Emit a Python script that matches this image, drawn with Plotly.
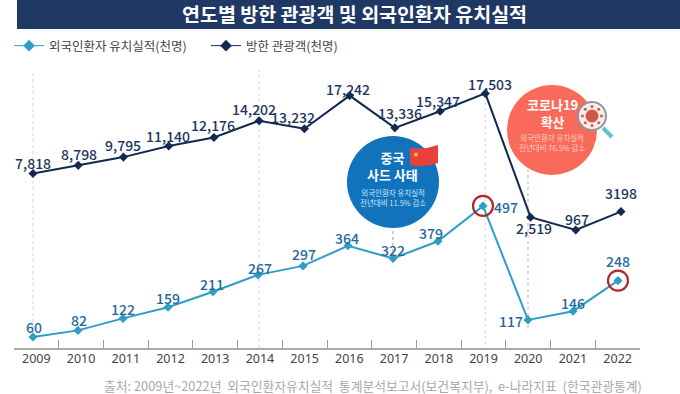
import math
import plotly.graph_objects as go

W, H = 680, 394
YEARS = ["2009","2010","2011","2012","2013","2014","2015","2016","2017","2018","2019","2020","2021","2022"]
YEAR_NUM = [int(y) for y in YEARS]
VISITORS = [7818, 8798, 9795, 11140, 12176, 14202, 13232, 17242, 13336, 15347, 17503, 2519, 967, 3198]
PATIENTS = [60, 82, 122, 159, 211, 267, 297, 364, 322, 379, 497, 117, 146, 248]
VISITOR_LABELS = ["7,818","8,798","9,795","11,140","12,176","14,202","13,232","17,242","13,336","15,347","17,503","2,519","967","3198"]
PATIENT_LABELS = [str(v) for v in PATIENTS]
RING_YEARS = [2019, 2022]
RING_VALUES = [497, 248]
NAME_PATIENTS = "외국인환자 유치실적(천명)"
NAME_VISITORS = "방한 관광객(천명)"
TITLE = "연도별 방한 관광객 및 외국인환자 유치실적"
SOURCE = "출처: 2009년~2022년  외국인환자유치실적  통계분석보고서(보건복지부),  e-나라지표  (한국관광통계)"

# label offsets in pixels (dx, dy down-positive)
V_OFF = [(0,-10),(1,-11),(0,-12),(-1,-10),(-1,-12),(-5,-12),(-11,-12),(-2,-7),(5,-15),(-2,-10),(5,-9),(3,11),(1,-11),(0,-19)]
P_OFF = [(1,-10),(1,-10),(0,-9),(0,-9),(-1,-8),(2,-7),(1,-12),(-1,-8),(0,-8),(-7,-8),(23,1),(-17,1),(0,-8),(0,-20)]

DARK = "#14294f"; BLUE = "#2f9ec6"; LBL_D = "#1c3560"; LBL_B = "#24689c"
CJK = "Noto Sans CJK KR"

def px(x): return x / W
def py(y): return 1 - y / H

fig = go.Figure()
fig.add_trace(go.Scatter(x=YEARS, y=VISITORS, mode="none", xaxis="x", yaxis="y", showlegend=False, hoverinfo="skip"))
fig.add_trace(go.Scatter(x=YEAR_NUM, y=PATIENTS, mode="lines+markers", xaxis="x3", yaxis="y2", showlegend=False,
                         line=dict(color=BLUE, width=2), marker=dict(symbol="diamond", size=7, color=BLUE)))
fig.add_trace(go.Scatter(x=YEAR_NUM, y=VISITORS, mode="lines+markers", xaxis="x2", yaxis="y", showlegend=False,
                         line=dict(color=DARK, width=2), marker=dict(symbol="diamond", size=7, color=DARK)))
fig.add_trace(go.Scatter(x=RING_YEARS, y=RING_VALUES, mode="markers", xaxis="x3", yaxis="y2", showlegend=False, hoverinfo="skip",
                         marker=dict(symbol="circle-open", size=20, color="#b3262c", line=dict(width=2.2, color="#b3262c"))))
# thin-lined legend keys
fig.add_trace(go.Scatter(x=[None], y=[None], name=NAME_PATIENTS, mode="lines+markers", xaxis="x3", yaxis="y2",
                         line=dict(color=BLUE, width=1), marker=dict(symbol="diamond", size=9, color=BLUE)))
fig.add_trace(go.Scatter(x=[None], y=[None], name=NAME_VISITORS, mode="lines+markers", xaxis="x2", yaxis="y",
                         line=dict(color=DARK, width=1), marker=dict(symbol="diamond", size=9, color=DARK)))

ann = []
def text(x, y, t, size, color, weight=400, font=CJK):
    ann.append(dict(xref="paper", yref="paper", x=px(x), y=py(y), text=t, showarrow=False, xanchor="center", yanchor="middle",
                    font=dict(family=font, size=size, color=color, weight=weight)))

for yr, v, lab, (dx, dy) in zip(YEAR_NUM, VISITORS, VISITOR_LABELS, V_OFF):
    ann.append(dict(xref="x2", yref="y", x=yr, y=v, text=lab, showarrow=False, xshift=dx, yshift=-dy,
                    font=dict(family=CJK, size=14, color=LBL_D, weight=500)))
for yr, v, lab, (dx, dy) in zip(YEAR_NUM, PATIENTS, PATIENT_LABELS, P_OFF):
    ann.append(dict(xref="x3", yref="y2", x=yr, y=v, text=lab, showarrow=False, xshift=dx, yshift=-dy,
                    font=dict(family=CJK, size=14, color=LBL_B, weight=500)))

text(354, 13.5, TITLE, 19.5, "white", 700)
text(373, 385, SOURCE, 12.8, "#a8a8a8")
text(393, 166, "중국<br>사드 사태", 13, "white", 700)
text(393, 198, "외국인환자 유치실적<br>전년대비 11.5% 감소", 7.5, "#cfe6f7")
text(552, 112.5, "코로나19<br>확산", 13, "white", 700)
text(552, 142, "외국인환자 유치실적<br>전년대비 76.5% 감소", 7.5, "#fbd0c9")

shapes = []
def rect(x0, y0, x1, y1, color):
    shapes.append(dict(type="rect", xref="paper", yref="paper", x0=px(x0), x1=px(x1), y0=py(y1), y1=py(y0),
                       fillcolor=color, line=dict(width=0), layer="below"))
def circle(cx, cy, r, color, line=None, lw=0, layer="below"):
    shapes.append(dict(type="circle", xref="paper", yref="paper", x0=px(cx-r), x1=px(cx+r), y0=py(cy+r), y1=py(cy-r),
                       fillcolor=color, line=dict(width=lw, color=line or color), layer=layer))
def guide(xref, yr, y0, y1, color):
    shapes.append(dict(type="line", xref=xref, yref="paper", x0=yr, x1=yr, y0=py(y1), y1=py(y0),
                       line=dict(color=color, width=1, dash="dot"), layer="below"))

rect(17, 0, 680, 29, "#1f3864")
guide("x2", 2009, 70, 340, "#d4d4d4")
guide("x2", 2014, 70, 348, "#d4d4d4")
guide("x3", 2017, 225, 252, "#999999")
guide("x2", 2019, 93, 345, "#d4d4d4")
guide("x3", 2020, 165, 328, "#d9a8a0")
circle(393, 182, 46, "#1273bd", layer="below")
circle(552, 130, 45, "#fa6a5a", layer="below")
# flag
shapes.append(dict(type="path", xref="paper", yref="paper",
    path=f"M {px(410)} {py(148)} Q {px(424)} {py(150)} {px(438)} {py(145)} L {px(438)} {py(163)} Q {px(424)} {py(168)} {px(410)} {py(165)} Z",
    fillcolor="#e8403a", line=dict(width=0)))
text(416, 153, "★", 6, "#f7d24a")
# magnifier with virus
shapes.append(dict(type="line", xref="paper", yref="paper", x0=px(603), y0=py(128), x1=px(612), y1=py(137),
                   line=dict(color="#5cc4cf", width=4)))
circle(592, 116, 14, "#fbeee9", line="#8f95a3", lw=2, layer="above")
circle(592, 116, 6.5, "#cf5a4c", layer="above")
for k in range(8):
    a = k * math.pi / 4
    circle(592 + 9.5 * math.cos(a), 116 + 9.5 * math.sin(a), 1.5, "#cf5a4c", layer="above")

axis_common = dict(showgrid=False, zeroline=False)
fig.update_layout(
    width=W, height=H, margin=dict(l=0, r=0, t=0, b=0), autosize=False,
    paper_bgcolor="white", plot_bgcolor="rgba(0,0,0,0)",
    font=dict(family=CJK),
    xaxis=dict(type="category", categoryorder="array", categoryarray=YEARS, range=[-0.5, 13.5],
               domain=[px(14), px(640)], anchor="y", tickson="boundaries", ticks="inside", ticklen=8,
               tickcolor="#9a9a9a", showline=True, linecolor="#aaaaaa", linewidth=1.5, ticklabelstandoff=-2,
               tickfont=dict(family="Noto Sans", size=12.5, color="#444444"), **axis_common),
    xaxis2=dict(type="linear", range=[2008.58, 2022.42], domain=[px(14), px(640)], overlaying="x", anchor="y",
                visible=False, **axis_common),
    xaxis3=dict(type="linear", range=[2008.578, 2022.489], domain=[px(14), px(640)], overlaying="x", anchor="y",
                visible=False, **axis_common),
    yaxis=dict(range=[-13317, 28814], domain=[py(348), 1], visible=False, **axis_common),
    yaxis2=dict(range=[23.3, 1183.3], domain=[py(348), 1], overlaying="y", visible=False, **axis_common),
    legend=dict(orientation="h", x=px(9), y=py(46), xanchor="left", yanchor="middle", itemwidth=30,
                entrywidth=152, entrywidthmode="pixels", font=dict(family=CJK, size=12.5, color="#444444"),
                bgcolor="rgba(0,0,0,0)", traceorder="normal"),
    annotations=ann, shapes=shapes,
)
fig.write_html("out.html", config=dict(displayModeBar=False),
               post_script="document.body.style.margin='0';document.documentElement.style.overflow='hidden';")
